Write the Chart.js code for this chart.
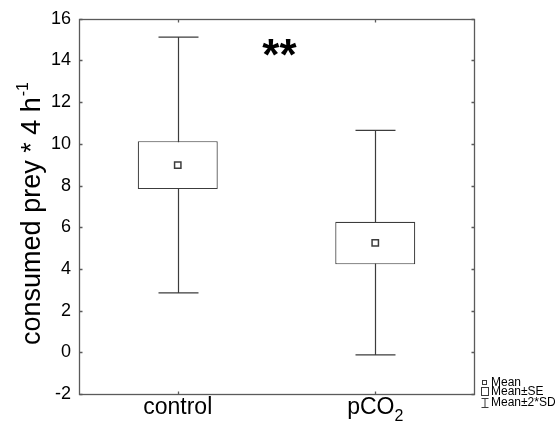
<!DOCTYPE html>
<html>
<head>
<meta charset="utf-8">
<script src="https://cdn.jsdelivr.net/npm/chart.js@4/dist/chart.umd.min.js"></script>
<style>
html,body{margin:0;padding:0;background:#fff;}
#wrap{width:555px;height:424px;}
</style>
</head>
<body>
<div id="wrap"><canvas id="c" width="555" height="424"></canvas></div>
<script>
const categories = ['control', 'pCO\u2082'];
const means = [8.98, 5.25];
const seLower = [7.83, 4.22];
const seUpper = [10.13, 6.26];
const sdLower = [2.85, -0.12];
const sdUpper = [15.12, 10.65];
const yTicks = [-2, 0, 2, 4, 6, 8, 10, 12, 14, 16];
const yTitle = 'consumed prey * 4 h';
const yTitleSup = '-1';
const sigLabel = '**';
const legendLabels = ['Mean', 'Mean\u00b1SE', 'Mean\u00b12*SD'];

const FONT = '"Liberation Sans", Arial, sans-serif';
const LINE = '#3c3c3c';

// split a label into normal part and subscript digits (U+2080..2089)
function splitSub(label) {
  let main = '', sub = '';
  for (const ch of label) {
    const c = ch.codePointAt(0);
    if (c >= 0x2080 && c <= 0x2089) sub += String.fromCharCode(48 + c - 0x2080);
    else main += ch;
  }
  return { main, sub };
}

const boxPlugin = {
  id: 'boxExtras',
  beforeDatasetsDraw(chart) {
    const ctx = chart.ctx, x = chart.scales.x, y = chart.scales.y;
    const meta = chart.getDatasetMeta(0);
    ctx.save();
    ctx.strokeStyle = LINE;
    ctx.lineWidth = 1.2;
    categories.forEach((c, i) => {
      const cx = Math.round(x.getPixelForValue(i)) + 0.5;
      const bw = meta.data[i].width;
      const capHalf = bw * 0.25;
      const yl = y.getPixelForValue(sdLower[i]);
      const yh = y.getPixelForValue(sdUpper[i]);
      ctx.beginPath();
      ctx.moveTo(cx, yl); ctx.lineTo(cx, yh);
      ctx.moveTo(cx - capHalf, yl); ctx.lineTo(cx + capHalf, yl);
      ctx.moveTo(cx - capHalf, yh); ctx.lineTo(cx + capHalf, yh);
      ctx.stroke();
    });
    ctx.restore();
  },
  afterDraw(chart) {
    const ctx = chart.ctx, a = chart.chartArea, x = chart.scales.x, y = chart.scales.y;
    ctx.save();
    // frame
    ctx.strokeStyle = '#5a5a5a';
    ctx.lineWidth = 1.3;
    const L = Math.round(a.left) + 0.5, R = Math.round(a.right) + 0.5;
    const T = Math.round(a.top) + 0.5, B = Math.round(a.bottom) + 0.5;
    ctx.strokeRect(L, T, R - L, B - T);
    // inward ticks
    ctx.beginPath();
    yTicks.forEach(v => {
      const py = Math.round(y.getPixelForValue(v)) + 0.5;
      ctx.moveTo(L, py); ctx.lineTo(L + 3, py);
      ctx.moveTo(R, py); ctx.lineTo(R - 3, py);
    });
    categories.forEach((c, i) => {
      const px = Math.round(x.getPixelForValue(i)) + 0.5;
      ctx.moveTo(px, B); ctx.lineTo(px, B - 3);
      ctx.moveTo(px, T); ctx.lineTo(px, T + 3);
    });
    ctx.stroke();

    ctx.fillStyle = '#000';
    // category labels with real subscripts
    ctx.textBaseline = 'alphabetic';
    ctx.textAlign = 'left';
    categories.forEach((c, i) => {
      const { main, sub } = splitSub(c);
      ctx.font = '23px ' + FONT;
      const w1 = ctx.measureText(main).width;
      ctx.font = '16px ' + FONT;
      const w2 = sub ? ctx.measureText(sub).width : 0;
      const px = x.getPixelForValue(i) - (w1 + w2) / 2;
      ctx.font = '23px ' + FONT;
      ctx.fillText(main, px, B + 19);
      if (sub) {
        ctx.font = '16px ' + FONT;
        ctx.fillText(sub, px + w1, B + 26);
      }
    });

    // y title with superscript
    const mainFont = '27px ' + FONT, supFont = '16px ' + FONT;
    ctx.font = mainFont;
    const w1 = ctx.measureText(yTitle).width;
    ctx.font = supFont;
    const w2 = ctx.measureText(yTitleSup).width;
    const total = w1 + w2;
    ctx.translate(40, 214);
    ctx.rotate(-Math.PI / 2);
    ctx.textBaseline = 'alphabetic';
    ctx.textAlign = 'left';
    ctx.font = mainFont;
    ctx.fillText(yTitle, -total / 2, 0);
    ctx.font = supFont;
    ctx.fillText(yTitleSup, -total / 2 + w1 + 1, -12);
    ctx.setTransform(1, 0, 0, 1, 0, 0);

    // significance label
    ctx.font = 'bold 44px ' + FONT;
    ctx.textAlign = 'center';
    ctx.textBaseline = 'alphabetic';
    ctx.fillText(sigLabel, x.getPixelForValue(0.515), y.getPixelForValue(13.55));

    // legend outside bottom-right
    ctx.font = '12px ' + FONT;
    ctx.textAlign = 'left';
    ctx.textBaseline = 'middle';
    ctx.strokeStyle = LINE;
    ctx.lineWidth = 1;
    ctx.strokeRect(482.5, 380.5, 4, 4);
    ctx.fillText(legendLabels[0], 491, 383);
    ctx.strokeRect(481.5, 387.5, 7, 8);
    ctx.fillText(legendLabels[1], 491, 392);
    ctx.beginPath();
    ctx.moveTo(481.5, 398.5); ctx.lineTo(488.5, 398.5);
    ctx.moveTo(485, 398.5); ctx.lineTo(485, 407.5);
    ctx.moveTo(481.5, 407.5); ctx.lineTo(488.5, 407.5);
    ctx.stroke();
    ctx.fillText(legendLabels[2], 491, 403);
    ctx.restore();
  }
};

new Chart(document.getElementById('c'), {
  type: 'bar',
  data: {
    labels: categories,
    datasets: [
      {
        type: 'bar',
        data: categories.map((c, i) => [seLower[i], seUpper[i]]),
        backgroundColor: '#ffffff',
        borderColor: LINE,
        borderWidth: 1.2,
        borderSkipped: false,
        barPercentage: 0.405,
        categoryPercentage: 1.0,
        order: 2
      },
      {
        type: 'line',
        data: means,
        showLine: false,
        pointStyle: 'rect',
        pointRadius: 4.5,
        pointBorderWidth: 1.5,
        pointBorderColor: LINE,
        pointBackgroundColor: '#ffffff',
        order: 1
      }
    ]
  },
  options: {
    responsive: false,
    animation: false,
    devicePixelRatio: 1,
    layout: { padding: { left: 0, top: 17, right: 81, bottom: 0 } },
    plugins: { legend: { display: false }, tooltip: { enabled: false } },
    scales: {
      x: {
        offset: true,
        grid: { display: false, drawTicks: false },
        border: { display: false },
        ticks: { display: false },
        afterFit(s) { s.height = 30; }
      },
      y: {
        min: -2, max: 16,
        afterBuildTicks(s) { s.ticks = yTicks.map(v => ({ value: v })); },
        grid: { display: false, drawTicks: false },
        border: { display: false },
        ticks: { font: { size: 18, family: FONT }, color: '#000', padding: 8 },
        afterFit(s) { s.width = 79; }
      }
    }
  },
  plugins: [boxPlugin]
});
</script>
</body>
</html>
